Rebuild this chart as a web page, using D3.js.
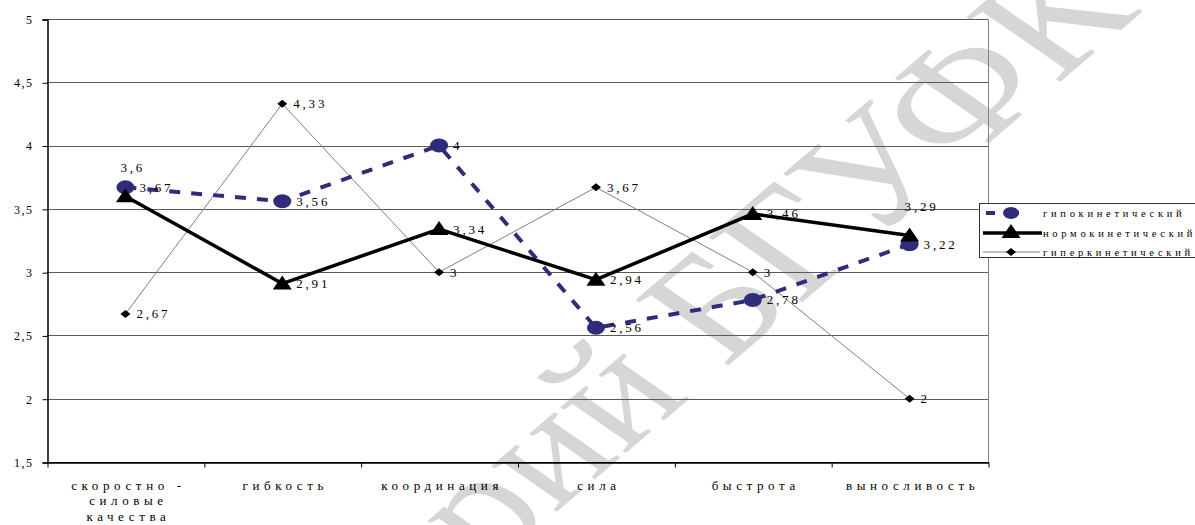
<!DOCTYPE html>
<html>
<head>
<meta charset="utf-8">
<script src="https://cdn.jsdelivr.net/npm/d3@7"></script>
<style>
  html, body { margin: 0; padding: 0; background: #fff; }
  svg { display: block; }
  text { font-family: "Liberation Serif", "DejaVu Serif", serif; fill: #000; }
</style>
</head>
<body>
<svg id="chart" width="1195" height="525"></svg>
<script>
// Физические качества по типам кровообращения
const categories = [["скоростно -", "силовые", "качества"], ["гибкость"], ["координация"], ["сила"], ["быстрота"], ["выносливость"]];
const seriesNames = ["гипокинетический", "нормокинетический", "гиперкинетический"];
const hypoValues = [3.67, 3.56, 4, 2.56, 2.78, 3.22];
const normoValues = [3.6, 2.91, 3.34, 2.94, 3.46, 3.29];
const hyperValues = [2.67, 4.33, 3, 3.67, 3, 2];
const yTicks = [1.5, 2, 2.5, 3, 3.5, 4, 4.5, 5];

const svg = d3.select("#chart");
const plotLeft = 47, plotRight = 988, plotTop = 19, plotBottom = 462;

const x = d3.scaleBand().domain(d3.range(categories.length)).range([plotLeft, plotRight]);
const y = d3.scaleLinear().domain([1.5, 5]).range([plotBottom, plotTop]);
const cx = i => x(i) + x.bandwidth() / 2;
const fmt = v => String(v).replace(".", ",");

// watermark
svg.append("text")
  .attr("transform", "translate(1142,12) scale(1.3,1) rotate(-48)")
  .attr("text-anchor", "end")
  .style("font-size", "148px")
  .style("fill", "#d6d6d6")
  .text("Репозиторий БГУФК");

// horizontal gridlines
svg.append("g").selectAll("line").data(yTicks).join("line")
  .attr("x1", plotLeft).attr("x2", plotRight)
  .attr("y1", d => Math.round(y(d)) + 0.5).attr("y2", d => Math.round(y(d)) + 0.5)
  .attr("stroke", d => d === 1.5 ? "#000" : "#5a5a5a").attr("stroke-width", 1);

// right border
svg.append("line")
  .attr("x1", plotRight + 0.5).attr("x2", plotRight + 0.5)
  .attr("y1", Math.round(plotTop) + 0.5).attr("y2", plotBottom)
  .attr("stroke", "#808080");

// y axis
const yAxis = d3.axisLeft(y).tickValues(yTicks).tickSize(5).tickPadding(9).tickFormat(fmt);
const gy = svg.append("g").attr("transform", `translate(${plotLeft + 0.5},0.5)`).call(yAxis);
gy.select(".domain").attr("stroke", "#000").attr("stroke-width", 1.5);
gy.selectAll(".tick line").attr("stroke", "#000");
gy.selectAll(".tick text")
  .style("font-family", "Liberation Serif, serif")
  .style("font-size", "12px").style("letter-spacing", "1.5px").attr("fill", "#000");

// x axis
const xLin = d3.scaleLinear().domain([0, categories.length]).range([plotLeft, plotRight]);
const xAxis = d3.axisBottom(xLin).tickValues(d3.range(categories.length + 1))
  .tickSize(5).tickFormat("").tickSizeOuter(0);
const gx = svg.append("g").attr("transform", `translate(0.5,${Math.round(plotBottom) + 0.5})`).call(xAxis);
gx.select(".domain").attr("stroke", "#000").attr("stroke-width", 1.5);
gx.selectAll(".tick line").attr("stroke", "#000");

// category labels
const catG = svg.append("g");
categories.forEach((lines, i) => {
  lines.forEach((ln, j) => {
    catG.append("text")
      .attr("x", cx(i) + 3).attr("y", 489.5 + j * 15.5)
      .attr("text-anchor", "middle")
      .style("font-size", "13px").style("letter-spacing", "4.6px")
      .text(ln);
  });
});

const lineGen = d3.line().x((d, i) => cx(i)).y(d => y(d));

// гиперкинетический
svg.append("path").datum(hyperValues).attr("d", lineGen)
  .attr("fill", "none").attr("stroke", "#808080").attr("stroke-width", 1);
// гипокинетический
svg.append("path").datum(hypoValues).attr("d", lineGen)
  .attr("fill", "none").attr("stroke", "#2f2d79").attr("stroke-width", 4).attr("stroke-dasharray", "11,11");
// нормокинетический
svg.append("path").datum(normoValues).attr("d", lineGen)
  .attr("fill", "none").attr("stroke", "#000").attr("stroke-width", 3.5).attr("stroke-linejoin", "miter");

const diamond = (px, py) => `M${px},${py - 4}L${px + 5},${py}L${px},${py + 4}L${px - 5},${py}Z`;
const triangle = (px, py) => `M${px},${py - 8}L${px + 9.5},${py + 6}L${px - 9.5},${py + 6}Z`;

// markers
svg.append("g").selectAll("path").data(hyperValues).join("path")
  .attr("d", (d, i) => diamond(cx(i), y(d))).attr("fill", "#000");
svg.append("g").selectAll("ellipse").data(hypoValues).join("ellipse")
  .attr("cx", (d, i) => cx(i)).attr("cy", d => y(d)).attr("rx", 9).attr("ry", 7)
  .attr("fill", "#2f2d79");
svg.append("g").selectAll("path").data(normoValues).join("path")
  .attr("d", (d, i) => triangle(cx(i), y(d))).attr("fill", "#000");

// data labels
const labelStyle = sel => sel.style("font-size", "13px").style("letter-spacing", "2.8px");
svg.append("g").selectAll("text").data(hyperValues).join("text")
  .attr("x", (d, i) => cx(i) + 11).attr("y", d => y(d) + 4.5)
  .call(labelStyle).text(fmt);
svg.append("g").selectAll("text").data(hypoValues).join("text")
  .attr("x", (d, i) => cx(i) + 14).attr("y", d => y(d) + 4.5)
  .call(labelStyle).text(fmt);
svg.append("g").selectAll("text").data(normoValues).join("text")
  .attr("x", (d, i) => (i === 0 || i === 5) ? cx(i) - 5 : cx(i) + 14)
  .attr("y", (d, i) => (i === 0 || i === 5) ? y(d) - 24 : y(d) + 4.5)
  .call(labelStyle).text(fmt);

// legend
const lg = svg.append("g");
lg.append("rect").attr("x", 979.5).attr("y", 203.5).attr("width", 230).attr("height", 54)
  .attr("fill", "#fff").attr("stroke", "#333").attr("stroke-width", 1);
const rows = [213, 233, 252];
const sx1 = 983, sx2 = 1040, smid = 1011;
lg.append("line").attr("x1", sx1 + 3).attr("x2", sx2 - 12).attr("y1", rows[0]).attr("y2", rows[0])
  .attr("stroke", "#2f2d79").attr("stroke-width", 4).attr("stroke-dasharray", "9,15");
lg.append("ellipse").attr("cx", smid).attr("cy", rows[0]).attr("rx", 8).attr("ry", 6).attr("fill", "#2f2d79");
lg.append("line").attr("x1", sx1).attr("x2", sx2 + 2).attr("y1", rows[1]).attr("y2", rows[1])
  .attr("stroke", "#000").attr("stroke-width", 3.5);
lg.append("path").attr("d", triangle(smid, rows[1] - 1)).attr("fill", "#000");
lg.append("line").attr("x1", sx1).attr("x2", sx2).attr("y1", rows[2]).attr("y2", rows[2])
  .attr("stroke", "#808080").attr("stroke-width", 1);
lg.append("path").attr("d", diamond(smid, rows[2])).attr("fill", "#000");
lg.selectAll("text.lbl").data(seriesNames).join("text")
  .attr("class", "lbl")
  .attr("x", 1043).attr("y", (d, i) => rows[i] + 4)
  .style("font-size", "10.5px").style("letter-spacing", "3.7px")
  .text(d => d);
</script>
</body>
</html>
